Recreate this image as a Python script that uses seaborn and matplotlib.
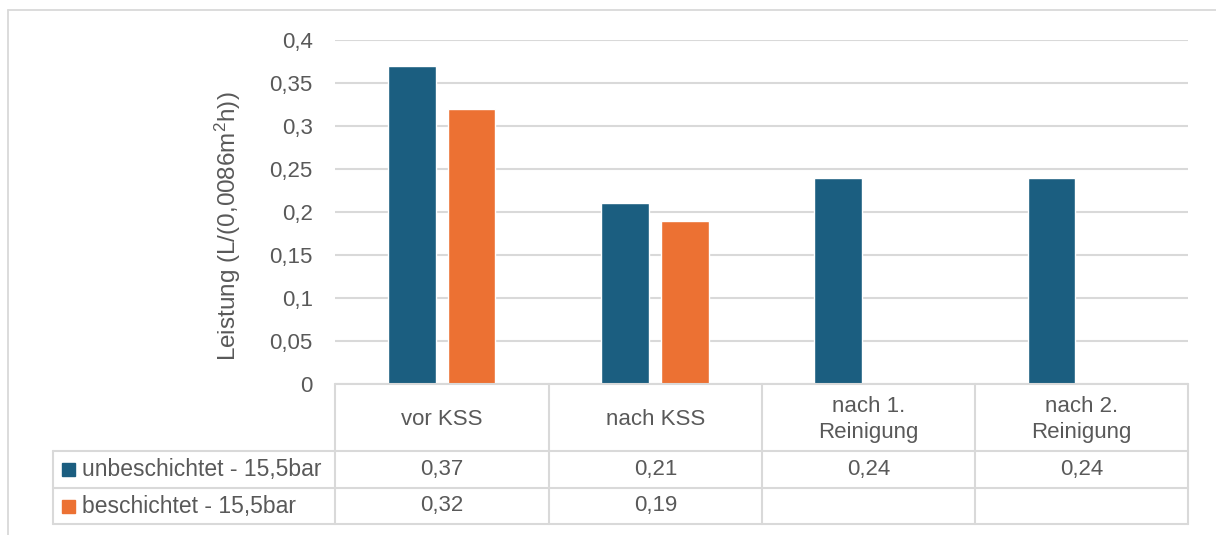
import matplotlib
matplotlib.use("Agg")
import matplotlib.pyplot as plt
from matplotlib.lines import Line2D
from matplotlib.patches import Rectangle
import seaborn as sns
import pandas as pd
import numpy as np

# Data
categories = ["vor KSS", "nach KSS", "nach 1.\nReinigung", "nach 2.\nReinigung"]
series_names = ["unbeschichtet - 15,5bar", "beschichtet - 15,5bar"]
unbeschichtet = [0.37, 0.21, 0.24, 0.24]
beschichtet = [0.32, 0.19, np.nan, np.nan]
y_ticks = [0, 0.05, 0.1, 0.15, 0.2, 0.25, 0.3, 0.35, 0.4]
y_label = "Leistung (L/(0,0086m$^2$h))"

colors = ["#1b5e80", "#ec7133"]
text_col = "#595959"
line_col = "#d9d9d9"

sns.set_theme(style="white")
plt.rcParams["font.family"] = ["Liberation Sans", "DejaVu Sans"]
plt.rcParams["mathtext.fontset"] = "custom"
plt.rcParams["mathtext.rm"] = "Liberation Sans"
plt.rcParams["mathtext.it"] = "Liberation Sans"

df = pd.DataFrame({
    "Kategorie": categories * 2,
    "Serie": [series_names[0]] * 4 + [series_names[1]] * 4,
    "Wert": unbeschichtet + beschichtet,
})

W, H = 1216, 535
fig = plt.figure(figsize=(W / 100, H / 100), dpi=100)

def fx(x):
    return x / W

def fy(y):
    return 1 - y / H

# plot area in pixel coordinates
L, R, T, B = 335, 1188, 40, 384
ax = fig.add_axes([fx(L), fy(B), fx(R) - fx(L), fy(T) - fy(B)])

sns.barplot(data=df, x="Kategorie", y="Wert", hue="Serie", order=categories,
            hue_order=series_names, palette=colors, width=0.56, gap=0.2,
            saturation=1, ax=ax, legend=False)

ax.set_xlim(-0.5, 3.5)
ax.set_ylim(0, 0.4)
ax.set_yticks(y_ticks)
ax.set_yticklabels([f"{v:g}".replace(".", ",") for v in y_ticks])
ax.tick_params(axis="y", length=0, pad=16, labelsize=16, labelcolor=text_col)
ax.set_xticks([])
ax.set_xlabel("")
ax.set_ylabel(y_label, color=text_col, fontsize=17.5)
ax.yaxis.set_label_coords((243 - L) / (R - L), (B - 226) / (B - T))
ax.grid(axis="y", color=line_col, linewidth=1.5)
ax.set_axisbelow(True)
for s in ax.spines.values():
    s.set_visible(False)

# outer chart frame
fig.add_artist(Line2D([fx(8), fx(8)], [fy(10), 0], color=line_col, lw=1.3, transform=fig.transFigure))
fig.add_artist(Line2D([fx(8), 1], [fy(10), fy(10)], color=line_col, lw=1.3, transform=fig.transFigure))

# data table
col_x = [335, 549, 762, 975, 1188]
row_y = [384, 451, 488, 524]
leg_left = 53

def hline(x0, x1, y):
    fig.add_artist(Line2D([fx(x0), fx(x1)], [fy(y), fy(y)], color=line_col, lw=1.5, transform=fig.transFigure))

def vline(x, y0, y1):
    fig.add_artist(Line2D([fx(x), fx(x)], [fy(y0), fy(y1)], color=line_col, lw=1.5, transform=fig.transFigure))

hline(col_x[0], col_x[-1], row_y[0])
for y in row_y[1:]:
    hline(leg_left, col_x[-1], y)
for x in col_x:
    vline(x, row_y[0], row_y[-1])
vline(leg_left, row_y[1], row_y[-1])

for i, cat in enumerate(categories):
    cx = (col_x[i] + col_x[i + 1]) / 2
    fig.text(fx(cx), fy((row_y[0] + row_y[1]) / 2 + 2), cat, ha="center", va="center",
             fontsize=16, color=text_col, linespacing=1.3)

for r, vals in enumerate([unbeschichtet, beschichtet]):
    cy = (row_y[r + 1] + row_y[r + 2]) / 2
    for i, v in enumerate(vals):
        if np.isnan(v):
            continue
        cx = (col_x[i] + col_x[i + 1]) / 2
        fig.text(fx(cx), fy(cy), f"{v:g}".replace(".", ","), ha="center", va="center",
                 fontsize=16, color=text_col)
    fig.add_artist(Rectangle((fx(62), fy(cy + 6.5)), fx(13), 13 / H, color=colors[r],
                             transform=fig.transFigure))
    fig.text(fx(82), fy(cy), series_names[r], ha="left", va="center",
             fontsize=16.5, color=text_col)

fig.savefig("out.png", dpi=100)
